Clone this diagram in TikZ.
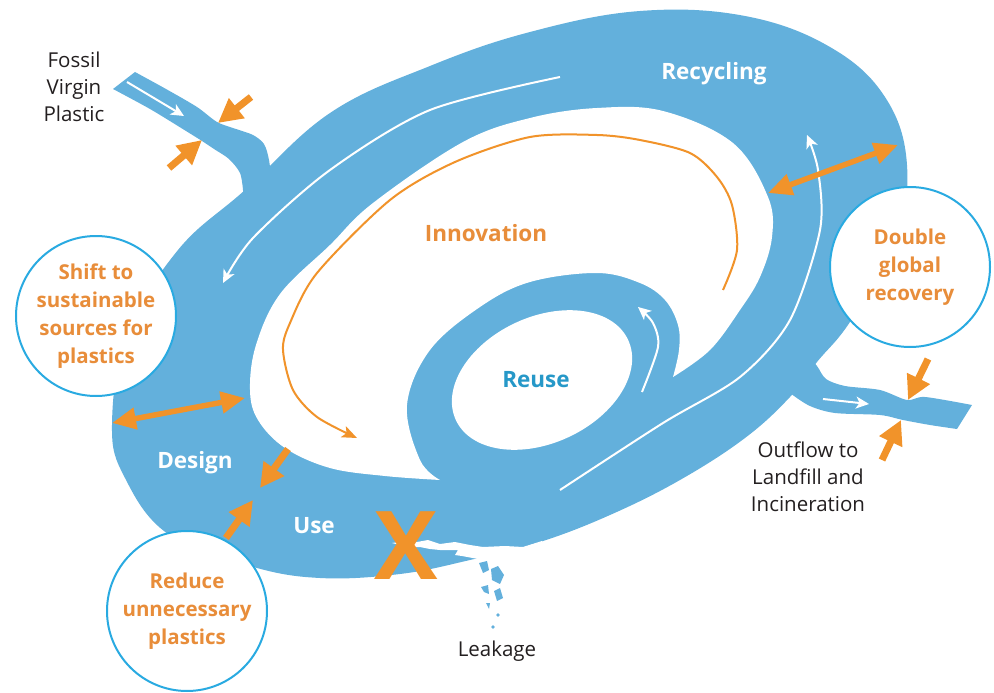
\documentclass[tikz,border=0pt]{standalone}
\usepackage{fontspec}
\setmainfont{Open Sans}
\usetikzlibrary{arrows.meta}
\definecolor{ringblue}{RGB}{99,176,220}
\definecolor{arrorange}{RGB}{241,147,42}
\definecolor{txtorange}{RGB}{232,141,58}
\definecolor{circblue}{RGB}{41,170,225}
\definecolor{reuseblue}{RGB}{38,152,200}
\definecolor{darktxt}{RGB}{35,31,32}
\begin{document}
\begin{tikzpicture}[x=1pt,y=-1pt,
  pincharrow/.style={draw=arrorange, line width=7pt, -{Triangle[length=24pt,width=24pt]}},
  dblarrow/.style={draw=arrorange, line width=5.5pt, {Triangle[length=24pt,width=21pt]}-{Triangle[length=24pt,width=21pt]}},
  flowarrow/.style={draw=white, line width=2pt, -{Stealth[length=13pt,width=12pt,inset=3.5pt]}},
  innoarrow/.style={draw=arrorange, line width=2pt, -{Stealth[length=15pt,width=12pt,inset=3.5pt]}},
  goalcircle/.style={circle, draw=circblue, line width=2pt, fill=white, minimum size=160pt, inner sep=0pt, align=center, text=txtorange, font=\bfseries\fontsize{20.5}{28}\selectfont},
  ringlabel/.style={anchor=base, font=\bfseries\fontsize{22.5}{26}\selectfont, text=white},
  plainlabel/.style={align=center, text=darktxt, font=\fontsize{20.5}{27}\selectfont}
]
\useasboundingbox (0,0) rectangle (994,693);

% streams
\fill[ringblue] (113,89) -- (135,72) -- plot[smooth,tension=0.5] coordinates {(135,72) (166,89) (197,107) (217,122) (236,129) (253,135) (264,144) (269,160) (272,185)} -- (262,205) -- (245,205) -- plot[smooth,tension=0.5] coordinates {(243,190) (240,173) (229,159) (214,149) (202,141) (186,131) (150,109) (113,89)} -- cycle;
\fill[ringblue] plot[smooth,tension=0.5] coordinates {(805,352) (817,366) (826,379) (845,386) (880,390) (907,400) (925,397) (972,405)} -- (957,429) -- plot[smooth,tension=0.5] coordinates {(957,429) (930,425) (903,420) (880,415) (835,413) (810,406) (790,393) (778,382)} -- cycle;

% main ring
\fill[ringblue] plot[smooth cycle, tension=0.65] coordinates {(112,425) (127,335) (178,250) (245,190) (330,113) (430,66) (530,32) (640,11) (745,16) (830,47) (885,97) (907,165) (895,245) (850,322) (817,362) (790,397) (745,438) (680,480) (610,515) (540,542) (470,560) (400,574) (320,578) (250,566) (168,534) (125,478)};

% inner hole
\fill[white] (440,480) -- plot[smooth,tension=0.6] coordinates {(440,480) (385,476) (330,468) (285,448) (258,420) (250,390) (256,345) (280,294) (330,245) (373,203) (463,142) (530,118) (597,108) (663,111) (733,143) (768,197) (772,237) (760,277) (740,310) (710,350) (673,377)} -- plot[smooth,tension=0.6] coordinates {(673,377) (679,350) (678,325) (665,300) (640,283) (597,273) (530,282) (480,307) (430,350) (407,405) (420,460) (440,480)} -- cycle;

% reuse hole
\fill[white, rotate around={25:(542,380)}] (542,380) ellipse [x radius=95pt, y radius=63pt];

% crack and leakage
\fill[white] (392,543) -- (405,541) -- (417,542) -- (428,540) -- (440,544) -- (455,542) -- (470,545) -- (483,547) -- (505,546) -- (523,547) -- (542,541) -- (548,560) -- (482,566) -- (478,559) -- (462,556) -- (455,555) -- (458,550) -- (440,550) -- (430,549) -- (420,547) -- (408,547) -- cycle;
\fill[ringblue] (479,563) -- (487,561) -- (489,570) -- (483,573) -- cycle;
\fill[ringblue] (491,569) -- (498,566) -- (504,575) -- (500,584) -- (492,580) -- cycle;
\fill[ringblue] (481,587) -- (488,585) -- (489,594) -- (484,592) -- cycle;
\fill[ringblue] (494,591) -- (500,588) -- (503,598) -- (497,601) -- cycle;
\fill[ringblue] (486,603) -- (490,603) -- (489,609) -- cycle;
\fill[ringblue] (498,615) circle[radius=1.8pt];
\fill[ringblue] (493,627) circle[radius=1.8pt];

\node[font=\bfseries\fontsize{95}{95}\selectfont, text=arrorange, inner sep=0pt] (xmark) at (406,546) {X};

% flow arrows
\draw[flowarrow] plot[smooth] coordinates {(560,77) (430,110) (330,170) (253,238) (223,283)};
\draw[flowarrow] plot[smooth] coordinates {(560,490) (663,423) (740,377) (790,320) (820,230) (818,170) (807,135)};
\draw[flowarrow] plot[smooth] coordinates {(642,392) (658,347) (653,323) (638,307)};
\draw[innoarrow] plot[smooth] coordinates {(723,290) (737,250) (732,205) (717,177) (690,153) (640,140) (597,135) (530,137) (455,162) (390,200) (317,273) (290,323) (283,350) (293,390) (317,417) (357,438)};

\coordinate (fa1) at (127,82); \coordinate (fa2) at (184,116);
\draw[flowarrow] (fa1) -- (fa2);
\coordinate (oa1) at (823,399); \coordinate (oa2) at (869,404);
\draw[flowarrow] (oa1) -- (oa2);

% circles
\node[goalcircle] (shift) at (96,316) {Shift to\\sustainable\\sources for\\plastics};
\node[goalcircle] (double) at (910,267) {Double\\global\\recovery};
\node[goalcircle] (reduce) at (187,611) {Reduce\\unnecessary\\plastics};

% double arrows
\coordinate (dl1) at (112,423); \coordinate (dl2) at (245,398);
\draw[dblarrow] (dl1) -- (dl2);
\coordinate (dr1) at (768,193); \coordinate (dr2) at (898,145);
\draw[dblarrow] (dr1) -- (dr2);

% pinch arrows
\coordinate (p1t) at (251,97); \coordinate (p1h) at (218,123);
\coordinate (p2t) at (169,168); \coordinate (p2h) at (202,140);
\draw[pincharrow] (p1t) -- (p1h);
\draw[pincharrow] (p2t) -- (p2h);
\coordinate (p3t) at (928,359); \coordinate (p3h) at (908,400);
\coordinate (p4t) at (882,460); \coordinate (p4h) at (901,420);
\draw[pincharrow] (p3t) -- (p3h);
\draw[pincharrow] (p4t) -- (p4h);
\coordinate (p5t) at (288,449); \coordinate (p5h) at (260,488);
\coordinate (p6t) at (226,538); \coordinate (p6h) at (253,500);
\draw[pincharrow] (p5t) -- (p5h);
\draw[pincharrow] (p6t) -- (p6h);

% labels
\node[ringlabel] (recyc) at (714,80) {Recycling};
\node[ringlabel, text=txtorange] (innov) at (486,241) {Innovation};
\node[ringlabel, text=reuseblue] (reuse) at (536,387) {Reuse};
\node[ringlabel] (design) at (195,468) {Design};
\node[ringlabel] (use) at (314,533) {Use};
\node[plainlabel] (fossil) at (74,87) {Fossil\\Virgin\\Plastic};
\node[plainlabel] (outflow) at (808,477) {Outflow to\\Landfill and\\Incineration};
\node[plainlabel] (leak) at (497,651) {Leakage};
\end{tikzpicture}
\end{document}
